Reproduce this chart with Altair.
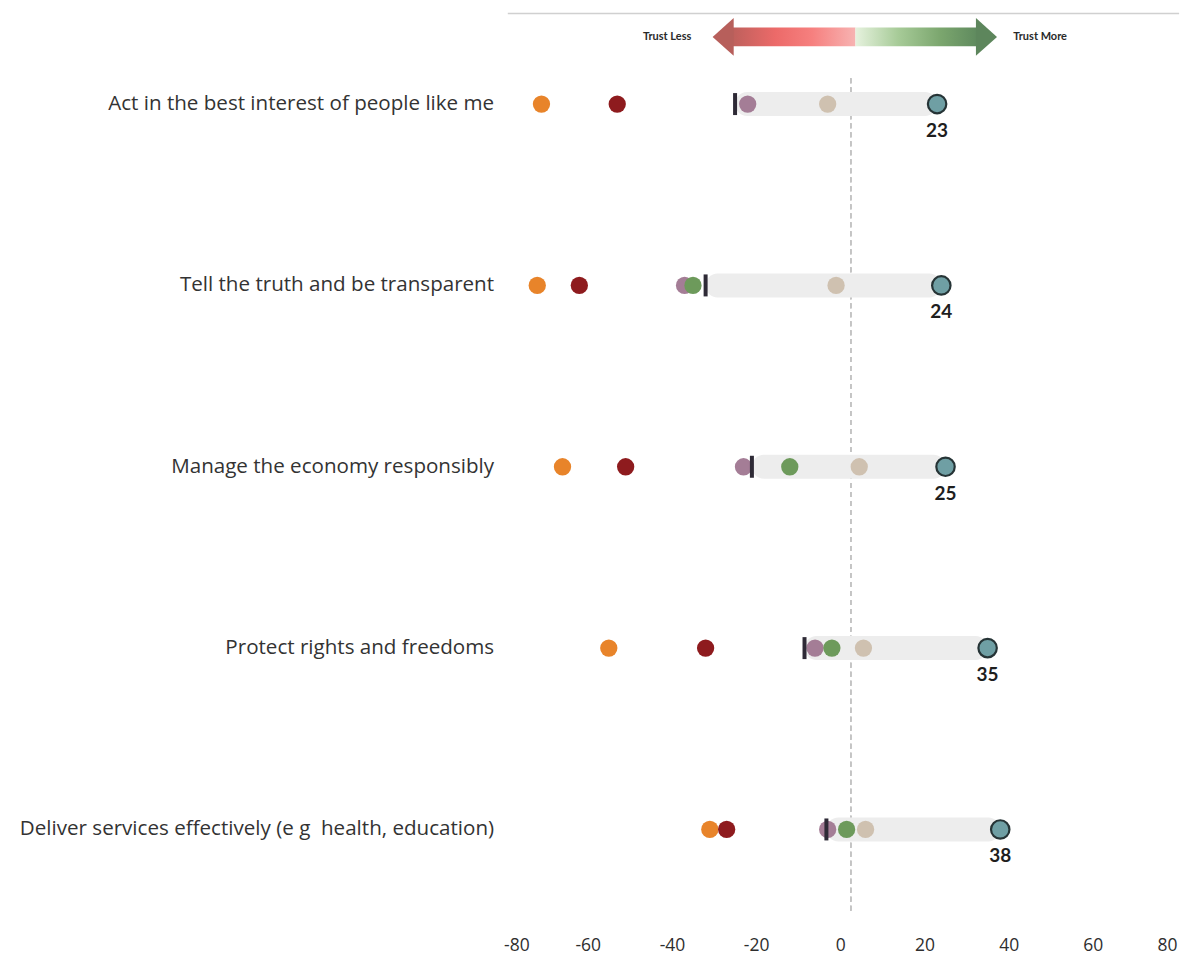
import altair as alt
import pandas as pd

# ---- data ----
categories = [
    "Act in the best interest of people like me",
    "Tell the truth and be transparent",
    "Manage the economy responsibly",
    "Protect rights and freedoms",
    "Deliver services effectively (e g\u00a0 health, education)",
]
series_names = ["Orange", "Dark red", "Mauve", "Green", "Beige"]
orange = [-71, -72, -66, -55, -31]
dark_red = [-53, -62, -51, -32, -27]
mauve = [-22, -37, -23, -6, -3]
green = [None, -35, -12, -2, 1.5]
beige = [-3, -1, 4.5, 5.5, 6]
tick_vals = [-25, -32, -21, -8.5, -3.3]
teal = [23, 24, 25, 35, 38]
series_colors = ["#E8842A", "#8E1B1E", "#A47D96", "#6D9A5B", "#CFC1B0"]

x_ticks = [-80, -60, -40, -20, 0, 20, 40, 60, 80]
zero_line = 2.5
arrow_left_tip, arrow_left_base, arrow_mid, arrow_right_base, arrow_right_tip = -30.4, -25.6, 3.6, 32.5, 37.0
label_less_x, label_more_x = -35.4, 41.1

# ---- tables ----
rows = []
for name, vals in zip(series_names, [orange, dark_red, mauve, green, beige]):
    for c, v in zip(categories, vals):
        if v is not None:
            rows.append({"cat": c, "series": name, "value": v})
dots = pd.DataFrame(rows)
base_df = pd.DataFrame({"cat": categories, "start": tick_vals, "end": teal,
                        "label": [str(v) for v in teal]})

W, H = 674, 907.5
xscale = alt.Scale(domain=[-80, 80], nice=False)
yscale = alt.Scale(domain=categories, paddingInner=0, paddingOuter=0)

X = lambda f: alt.X(f, scale=xscale, axis=alt.Axis(
    values=x_ticks, title=None, grid=False, domain=False, ticks=False, tickSize=0,
    labelExpr="'' + datum.value",
    labelPadding=16, labelFontSize=17.5, labelColor="#2E2E2E", labelFont="Open Sans"))
Y = alt.Y("cat:N", scale=yscale, sort=categories, axis=alt.Axis(
    title=None, domain=False, ticks=False, tickSize=0, grid=False, labelPadding=10,
    labelFontSize=20.6, labelColor="#333333", labelFont="Open Sans", labelLimit=600))

bar = alt.Chart(base_df).mark_bar(height=24, cornerRadius=12, color="#EDEDED").encode(
    x=X("start:Q"), x2="end:Q", y=Y)

zero = alt.Chart(base_df).mark_rule(color="#C4C4C4", strokeDash=[5, 4], strokeWidth=1.3).encode(
    x=alt.datum(zero_line), y=alt.value(65), y2=alt.value(902))

order_map = {n: i for i, n in enumerate(series_names)}
dots["ord"] = dots["series"].map(order_map)
pts_low = alt.Chart(dots[dots["series"].isin(["Orange", "Dark red", "Mauve"])]).mark_circle(
    size=300, opacity=1).encode(
    x=X("value:Q"), y=Y,
    color=alt.Color("series:N", scale=alt.Scale(domain=series_names, range=series_colors), legend=None),
    order="ord:Q")

ticks = alt.Chart(base_df).mark_tick(orient="vertical", thickness=4, size=22, color="#2E2A36", opacity=1).encode(
    x=X("start:Q"), y=Y)

pts_high = alt.Chart(dots[dots["series"].isin(["Green", "Beige"])]).mark_circle(
    size=300, opacity=1).encode(
    x=X("value:Q"), y=Y,
    color=alt.Color("series:N", scale=alt.Scale(domain=series_names, range=series_colors), legend=None),
    order="ord:Q")

teal_pts = alt.Chart(base_df).mark_point(
    shape="circle", size=340, filled=True, fill="#6F9FA4", stroke="#263436", strokeWidth=2.2, opacity=1
).encode(x=X("end:Q"), y=Y)

labels = alt.Chart(base_df).mark_text(
    dy=27, fontSize=19, fontWeight="bold", font="Lato", color="#1E1E1E").encode(
    x=X("end:Q"), y=Y, text="label:N")

# ---- header: top line and arrow ----
hdr = pd.DataFrame({"a": [0]})
top_line = alt.Chart(hdr).mark_rule(color="#D0D0D0", strokeWidth=1.5).encode(
    x=alt.datum(-79), x2=alt.datum(80.5), y=alt.value(0))

left_shaft = alt.Chart(hdr).mark_rect(
    color=alt.Gradient(gradient="linear", x1=0, y1=0, x2=1, y2=0, stops=[
        alt.GradientStop(color="#BE605C", offset=0),
        alt.GradientStop(color="#EC6A69", offset=0.35),
        alt.GradientStop(color="#F6807F", offset=0.65),
        alt.GradientStop(color="#F7B3B2", offset=1)])).encode(
    x=alt.datum(arrow_left_base), x2=alt.datum(arrow_mid), y=alt.value(14), y2=alt.value(33))
right_shaft = alt.Chart(hdr).mark_rect(
    color=alt.Gradient(gradient="linear", x1=0, y1=0, x2=1, y2=0, stops=[
        alt.GradientStop(color="#E6F2DE", offset=0),
        alt.GradientStop(color="#A7CB98", offset=0.35),
        alt.GradientStop(color="#7BA66E", offset=0.7),
        alt.GradientStop(color="#5F8A5E", offset=1)])).encode(
    x=alt.datum(arrow_mid), x2=alt.datum(arrow_right_base), y=alt.value(14), y2=alt.value(33))
left_head = alt.Chart(hdr).mark_point(
    shape="M -1.05 0 L 0.06 -1 L 0.06 1 Z", size=1444, filled=True, fill="#B75F5B", opacity=1, strokeWidth=0
).encode(x=alt.datum(arrow_left_base), y=alt.value(23.5))
right_head = alt.Chart(hdr).mark_point(
    shape="M 1.05 0 L -0.06 -1 L -0.06 1 Z", size=1444, filled=True, fill="#5D865C", opacity=1, strokeWidth=0
).encode(x=alt.datum(arrow_right_base), y=alt.value(23.5))
less_txt = alt.Chart(hdr).mark_text(
    text="Trust Less", align="right", baseline="middle", fontSize=11, fontWeight="bold",
    font="Lato", color="#2A2A2A").encode(x=alt.datum(label_less_x), y=alt.value(24))
more_txt = alt.Chart(hdr).mark_text(
    text="Trust More", align="left", baseline="middle", fontSize=11, fontWeight="bold",
    font="Lato", color="#2A2A2A").encode(x=alt.datum(label_more_x), y=alt.value(24))

chart = alt.layer(
    top_line, zero, bar, pts_low, ticks, pts_high, teal_pts, labels,
    left_shaft, right_shaft, left_head, right_head, less_txt, more_txt
).properties(
    width=W, height=H,
    background="white",
    autosize=alt.AutoSizeParams(type="none"),
    padding={"left": 496, "top": 5, "right": 10, "bottom": 37},
).configure_view(strokeWidth=0, stroke=None)

chart.save("out.html", embed_options={"renderer": "svg", "actions": False})
